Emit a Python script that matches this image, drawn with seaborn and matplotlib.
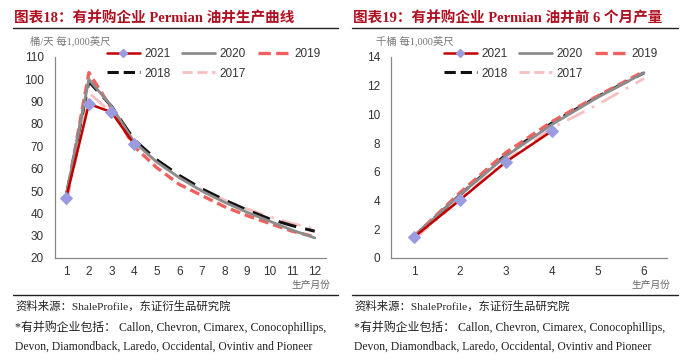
import matplotlib
matplotlib.use("Agg")
import matplotlib.pyplot as plt
import seaborn as sns
import numpy as np
import pandas as pd
from matplotlib.lines import Line2D
from matplotlib.legend_handler import HandlerLine2D

sns.set_style("white")
plt.rcParams['font.family'] = ['Liberation Sans', 'Noto Sans CJK SC', 'DejaVu Sans']

# ---------------- data ----------------
months_a = list(range(1, 13))
prod_2021 = [47, 89, 85.3, 71]
prod_2020 = [48, 100, 88, 72, 63, 56, 50, 45, 40.5, 36.5, 32.5, 29]
prod_2019 = [47, 103, 87, 70, 60.5, 53, 48, 43, 39, 35.5, 32, 29.5]
prod_2018 = [48, 99, 88, 73, 64, 57, 51, 46, 41.5, 37.5, 34.5, 32]
prod_2017 = [44, 94, 85, 72, 63, 56, 50.5, 46, 42, 38.5, 35.5, 33]

months_b = list(range(1, 7))
cum_2021 = [1.45, 4.05, 6.7, 8.85]
cum_2020 = [1.5, 4.4, 7.1, 9.3, 11.2, 12.9]
cum_2019 = [1.5, 4.55, 7.35, 9.5, 11.3, 13.0]
cum_2018 = [1.5, 4.4, 7.2, 9.4, 11.25, 12.9]
cum_2017 = [1.3, 4.1, 6.8, 9.05, 10.7, 12.5]

years = ["2021", "2020", "2019", "2018", "2017"]
title_a = "图表18：有并购企业 Permian 油井生产曲线"
title_b = "图表19：有并购企业 Permian 油井前 6 个月产量"
unit_a = "桶/天 每1,000英尺"
unit_b = "千桶 每1,000英尺"
xlabel = "生产月份"
source = "资料来源：ShaleProfile，东证衍生品研究院"
note1 = "*有并购企业包括： Callon, Chevron, Cimarex, Conocophillips,"
note2 = "Devon, Diamondback, Laredo, Occidental, Ovintiv and Pioneer"

# ---------------- styles ----------------
styles = {
    "2021": dict(color="#c00000", lw=1.8, ls="-", marker="D", ms=6,
                 mfc="#9b9be0", mec="#9b9be0"),
    "2020": dict(color="#8c8c8c", lw=2.0, ls="-"),
    "2019": dict(color="#f0605e", lw=2.4, ls=(0, (3, 1.5))),
    "2018": dict(color="#111111", lw=2.2, ls=(0, (6, 3))),
    "2017": dict(color="#f7c0c0", lw=2.0, ls=(0, (7, 3, 1, 3))),
}

W, H = 700, 363
fig = plt.figure(figsize=(W / 100, H / 100), dpi=100)

def fx(px):
    return px / W

def fy(py):
    return 1 - py / H

def draw_panel(ax, months, series, ylim, yticks, nmonths):
    for yr in ["2017", "2018", "2019", "2020", "2021"]:
        vals = series[yr]
        st = styles[yr]
        df = pd.DataFrame({"m": months[:len(vals)], "v": vals})
        kw = dict(color=st["color"], linewidth=st["lw"], linestyle=st["ls"])
        if "marker" in st:
            kw.update(marker=st["marker"], markersize=st["ms"],
                      markerfacecolor=st["mfc"], markeredgecolor=st["mec"])
        sns.lineplot(data=df, x="m", y="v", ax=ax, **kw)
    ax.set_xlim(0.5, nmonths + 0.5)
    ax.set_ylim(*ylim)
    ax.set_yticks(yticks)
    ax.set_xticks(np.arange(1, nmonths + 1))
    ax.set_xticks(np.arange(1.5, nmonths + 0.6, 1), minor=True)
    ax.tick_params(axis="x", which="major", length=0, pad=6,
                   labelsize=8.5, labelcolor="#333333")
    ax.tick_params(axis="x", which="minor", length=3, direction="in",
                   color="#888888", width=0.8)
    ax.tick_params(axis="y", length=3, direction="in", color="#888888",
                   width=0.8, labelsize=8.5, labelcolor="#333333", pad=8)
    ax.set_xlabel("")
    ax.set_ylabel("")
    for s in ["top", "right"]:
        ax.spines[s].set_visible(False)
    for s in ["left", "bottom"]:
        ax.spines[s].set_color("#888888")
        ax.spines[s].set_linewidth(0.9)
    ax.patch.set_alpha(0)

class MidMarker(HandlerLine2D):
    def create_artists(self, legend, orig_handle, xdescent, ydescent,
                       width, height, fontsize, trans):
        y = height / 2 - ydescent
        line = Line2D([-xdescent, -xdescent + width], [y, y],
                      color=orig_handle.get_color(), lw=orig_handle.get_linewidth(),
                      ls=orig_handle.get_linestyle(), transform=trans)
        arts = [line]
        if orig_handle.get_marker() not in (None, "None", ""):
            m = Line2D([-xdescent + width / 2], [y], marker=orig_handle.get_marker(),
                       ms=4, mfc=orig_handle.get_markerfacecolor(),
                       mec=orig_handle.get_markeredgecolor(), ls="None",
                       transform=trans)
            arts.append(m)
        return arts

def legend_handles(order):
    hs = []
    for yr in order:
        st = styles[yr]
        h = Line2D([0], [0], color=st["color"], lw=st["lw"], ls=st["ls"])
        if "marker" in st:
            h.set_marker(st["marker"])
            h.set_markerfacecolor(st["mfc"])
            h.set_markeredgecolor(st["mec"])
        hs.append(h)
    return hs

panels = [
    dict(x0=55, x1=326, months=months_a,
         series={"2021": prod_2021, "2020": prod_2020, "2019": prod_2019,
                 "2018": prod_2018, "2017": prod_2017},
         ylim=(20, 110), yticks=np.arange(20, 111, 10), n=12,
         title=title_a, unit=unit_a, line_x=(13, 338), unit_x=30,
         legx=101),
    dict(x0=391, x1=667, months=months_b,
         series={"2021": cum_2021, "2020": cum_2020, "2019": cum_2019,
                 "2018": cum_2018, "2017": cum_2017},
         ylim=(0, 14), yticks=np.arange(0, 15, 2), n=6,
         title=title_b, unit=unit_b, line_x=(352, 678), unit_x=376,
         legx=438),
]

# legend fills column-wise; reorder so rows read 2021 2020 2019 / 2018 2017
leg_order = ["2021", "2018", "2020", "2017", "2019"]

top_px, bot_px = 57, 258
for p in panels:
    ax = fig.add_axes([fx(p["x0"]), fy(bot_px), fx(p["x1"] - p["x0"]),
                       (bot_px - top_px) / H])
    draw_panel(ax, p["months"], p["series"], p["ylim"], p["yticks"], p["n"])

    hs = legend_handles(leg_order)
    leg = fig.legend(hs, leg_order, loc="upper left",
                     bbox_to_anchor=(fx(p["legx"]), fy(42)), ncol=3,
                     frameon=False, fontsize=8.5, handlelength=2.8,
                     handletextpad=0.35, columnspacing=1.0, labelspacing=0.65,
                     borderpad=0.0, handler_map={Line2D: MidMarker()})
    for t in leg.get_texts():
        t.set_color("#333333")

    lx0, lx1 = p["line_x"]
    fig.text(fx(lx0 + 1), fy(18), p["title"], fontsize=10.5, fontweight="bold",
             color="#b01020", va="center", ha="left",
             family=["Liberation Serif", "Noto Sans CJK SC"])
    fig.add_artist(Line2D([fx(lx0), fx(lx1)], [fy(28), fy(28)],
                          color="#222222", lw=1.0))
    fig.text(fx(p["unit_x"]), fy(41), p["unit"], fontsize=7.5, color="#777777",
             va="center", ha="left",
             family=["Liberation Serif", "Noto Sans CJK SC"])
    fig.text(fx(lx1 - 8), fy(285), xlabel, fontsize=7, color="#666666",
             va="center", ha="right",
             family=["Liberation Serif", "Noto Sans CJK SC"])
    fig.add_artist(Line2D([fx(lx0), fx(lx1)], [fy(295), fy(295)],
                          color="#222222", lw=1.0))
    for yy, txt, fs in [(306, source, 8.2), (327, note1, 8.6), (347, note2, 8.4)]:
        fig.text(fx(lx0 + 2), fy(yy), txt, fontsize=fs, color="#222222",
                 va="center", ha="left",
                 family=["Liberation Serif", "Noto Sans CJK SC"])

fig.savefig("out.png", dpi=100)
